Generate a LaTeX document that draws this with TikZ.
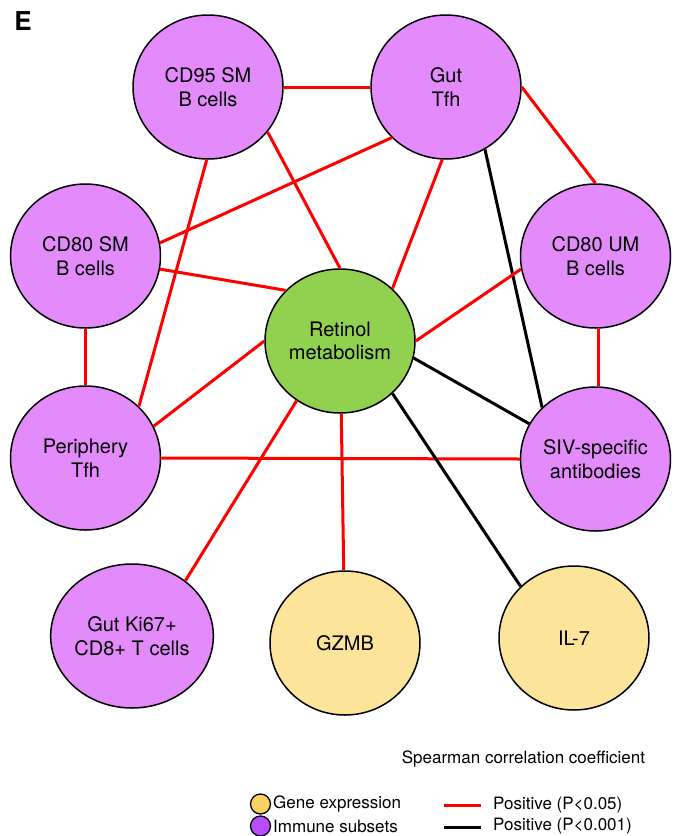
\documentclass[tikz,border=0pt]{standalone}
\usepackage{fontspec}
\setmainfont{TeX Gyre Heros}
\usetikzlibrary{shapes.geometric}
\definecolor{immune}{HTML}{E38BFA}
\definecolor{gene}{HTML}{FCE49A}
\definecolor{hub}{HTML}{92D050}
\definecolor{legimm}{HTML}{B84CFF}
\definecolor{leggene}{HTML}{F8D265}
\definecolor{posred}{HTML}{FF0000}
\tikzset{
  bubble/.style={ellipse, draw=black, line width=1.5pt, minimum width=150pt, minimum height=144pt,
    inner sep=0pt, align=center, font=\fontsize{20}{23.5}\selectfont},
  immunenode/.style={bubble, fill=immune},
  genenode/.style={bubble, fill=gene},
  hubnode/.style={bubble, fill=hub},
  redlink/.style={draw=posred, line width=3pt},
  blacklink/.style={draw=black, line width=3pt},
  legtext/.style={anchor=west, inner sep=0pt, font=\fontsize{17}{20}\selectfont},
  legdot/.style={circle, draw=black, line width=1.3pt, minimum size=20pt, inner sep=0pt}
}
\begin{document}
\begin{tikzpicture}[x=1pt,y=-1pt]
\useasboundingbox (0,0) rectangle (680,836);
\node[font=\fontsize{26}{26}\bfseries\selectfont, inner sep=0pt] (lbl) at (23,21.5) {E};
% nodes
\node[immunenode] (cd95) at (208,87) {CD95 SM\\B cells};
\node[immunenode] (guttfh) at (446,87) {Gut\\Tfh};
\node[immunenode] (cd80sm) at (85.5,256) {CD80 SM\\B cells};
\node[immunenode] (cd80um) at (595.5,256) {CD80 UM\\B cells};
\node[hubnode] (ret) at (340,341) {Retinol\\metabolism};
\node[immunenode] (per) at (85.5,458) {Periphery\\Tfh};
\node[immunenode] (siv) at (595.5,459) {SIV-specific\\antibodies};
\node[immunenode] (ki67) at (132,636) {Gut Ki67+\\CD8+ T cells};
\node[genenode] (gzmb) at (345,643) {GZMB};
\node[genenode] (il7) at (574,638) {IL-7};
% connectors
\draw[redlink] (cd95.0) -- (guttfh.180);
\draw[redlink] (cd95.-37.7) -- (ret.90);
\draw[redlink] (cd95.-91) -- (per.44);
\draw[redlink] (guttfh.-137.7) -- (cd80sm.10);
\draw[redlink] (guttfh.-93) -- (ret.45.5);
\draw[redlink] (guttfh.0) -- (cd80um.90);
\draw[blacklink] (guttfh.-58.5) -- (siv.136.9);
\draw[redlink] (cd80sm.-10) -- (ret.137.2);
\draw[redlink] (cd80sm.-90) -- (per.90);
\draw[redlink] (ret.180) -- (per.25.7);
\draw[redlink] (per.0.8) -- (siv.180);
\draw[redlink] (ret.0) -- (cd80um.-170.2);
\draw[blacklink] (ret.-13) -- (siv.152.6);
\draw[blacklink] (ret.-45.5) -- (il7.136.6);
\draw[redlink] (ret.-89.5) -- (gzmb.91);
\draw[redlink] (ret.-126.1) -- (ki67.46);
\draw[redlink] (cd80um.-88) -- (siv.88);
% legend
\node[font=\fontsize{17}{20}\selectfont, inner sep=0pt] (legtitle) at (523.5,759) {Spearman correlation coefficient};
\node[legdot, fill=leggene] (dotgene) at (260.5,804) {};
\node[legdot, fill=legimm] (dotimm) at (260.5,826) {};
\node[legtext] (txtgene) at (273,804) {Gene expression};
\node[legtext] (txtimm) at (273,826) {Immune subsets};
\coordinate (r1) at (444,805);
\coordinate (r2) at (481,805);
\coordinate (b1) at (444,827);
\coordinate (b2) at (481,827);
\draw[redlink] (r1) -- (r2);
\draw[blacklink] (b1) -- (b2);
\node[legtext] (txtred) at (493,805) {Positive (P<0.05)};
\node[legtext] (txtblack) at (493,826) {Positive (P<0.001)};
\end{tikzpicture}
\end{document}
